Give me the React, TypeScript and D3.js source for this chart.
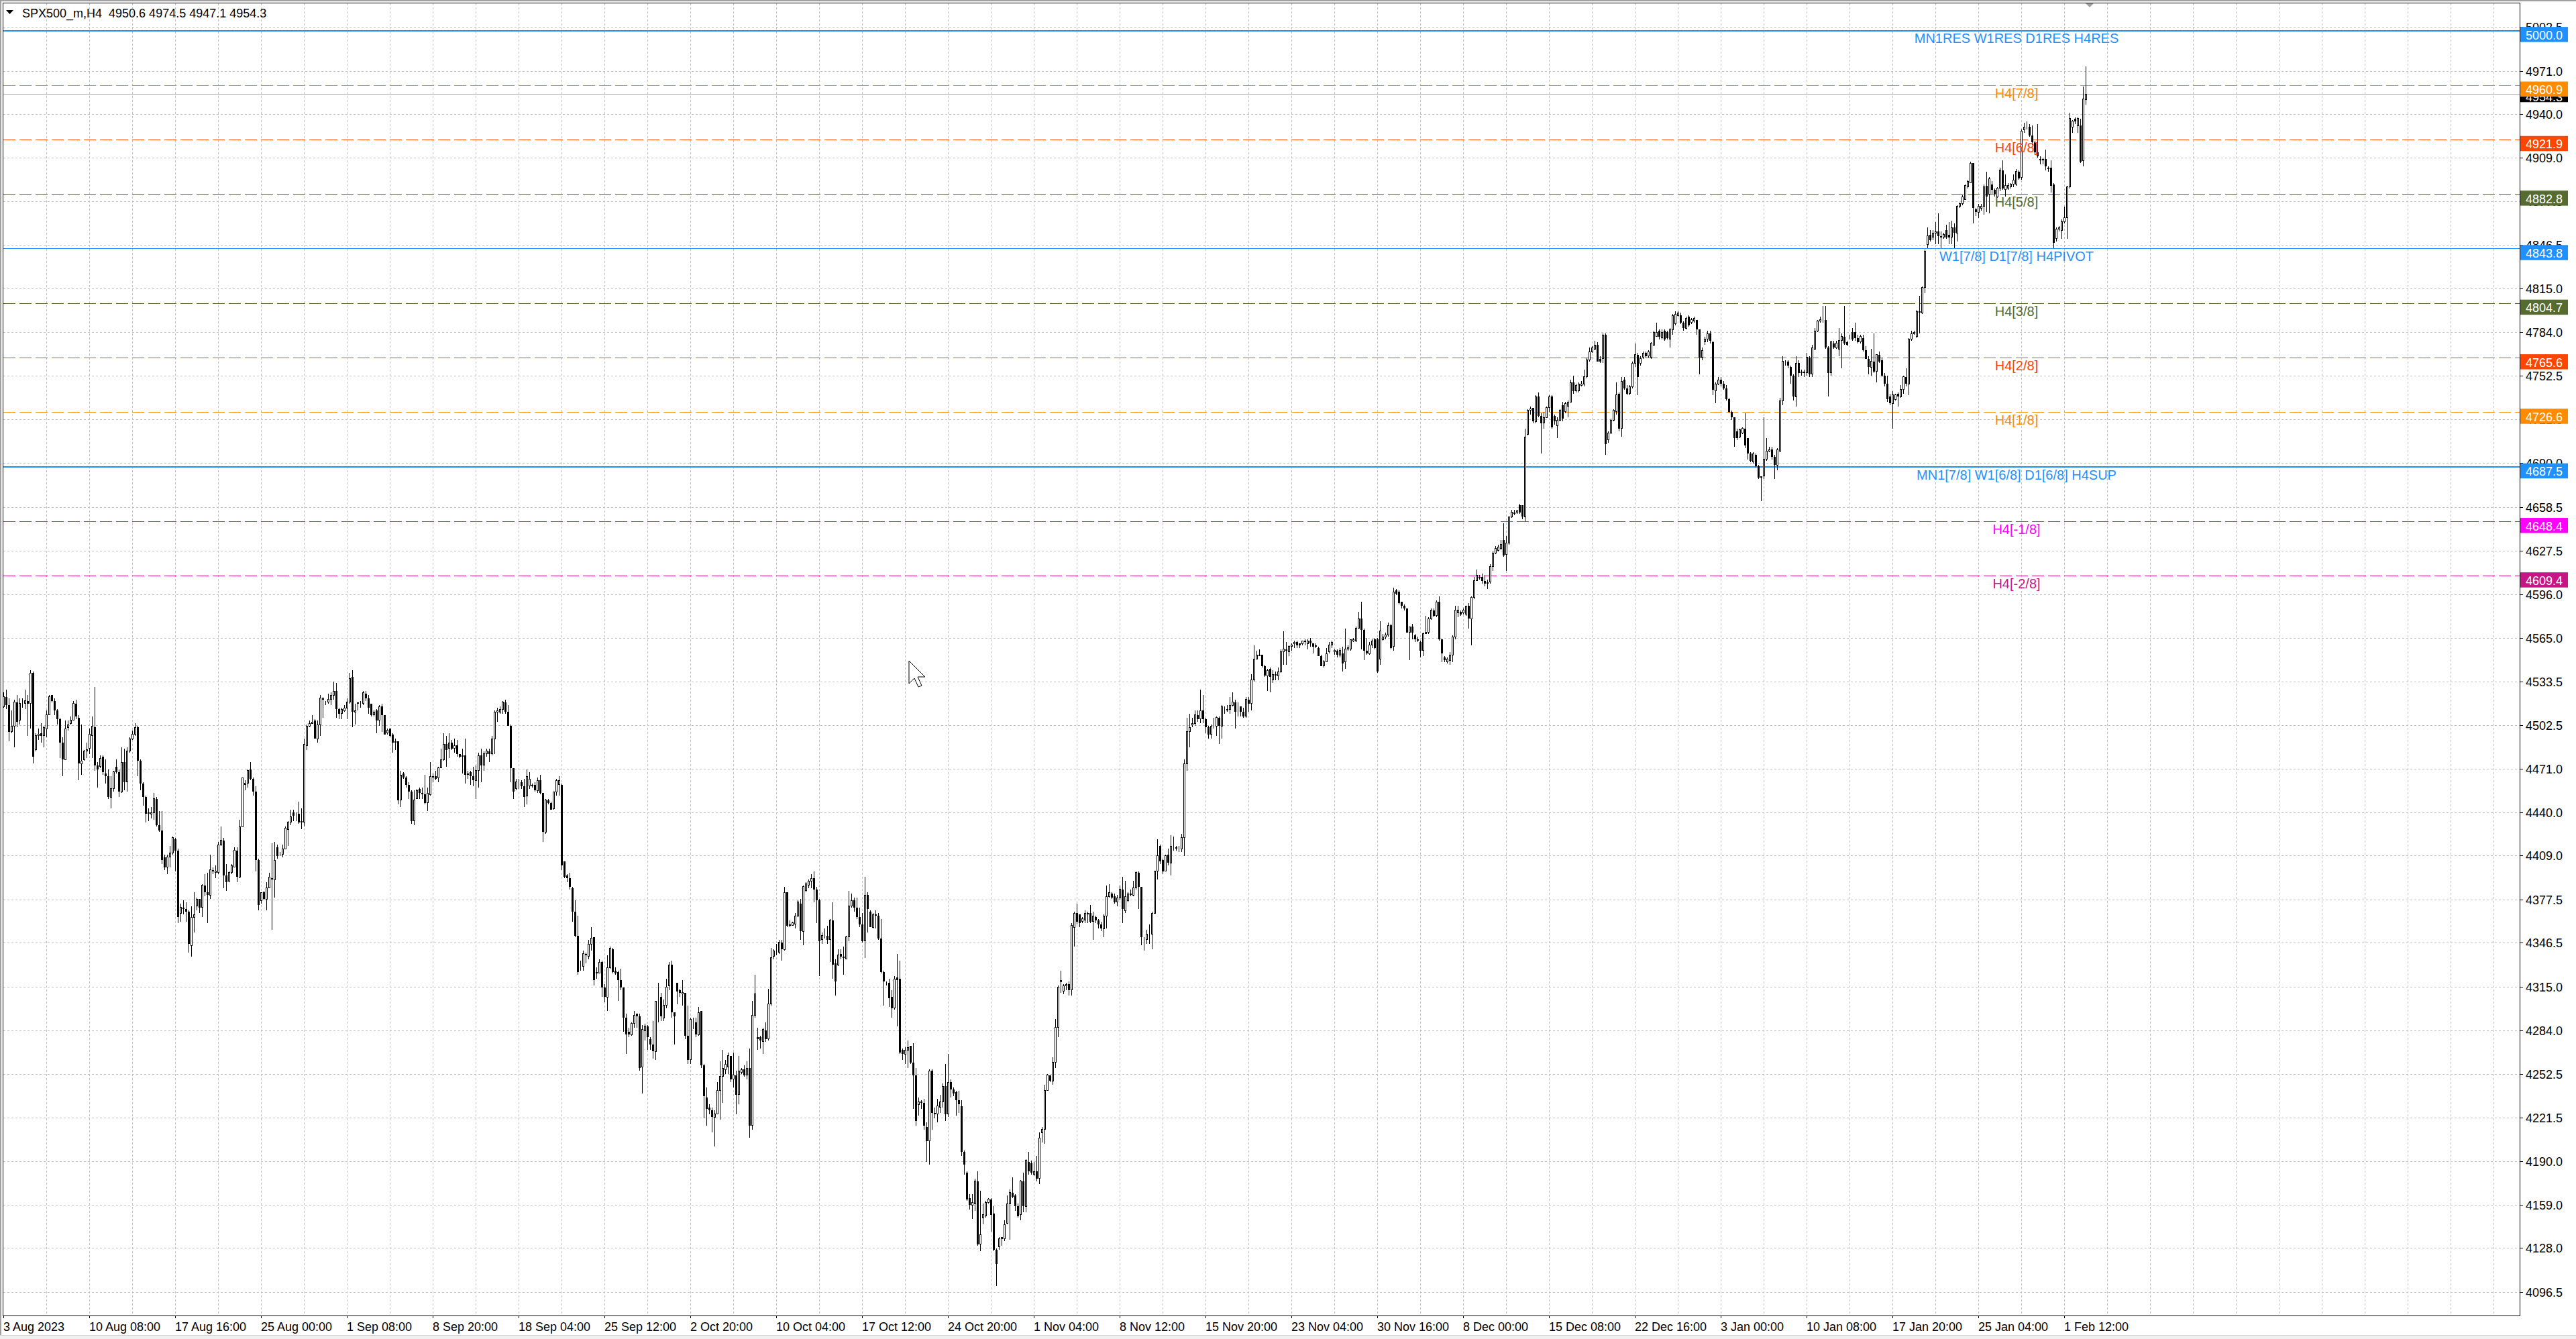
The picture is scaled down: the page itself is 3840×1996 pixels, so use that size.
import { useRef, useEffect } from "react";
import * as d3 from "d3";

const WIDTH = 3840;
const HEIGHT = 1996;

// H4 bars, oldest first: [open, high, low, close]
const candles: [number, number, number, number][] = [
  [4516,4526,4515,4523],[4523,4528,4514,4517],[4517,4522,4491,4498],[4498,4513,4497,4502],[4502,4521,4487,4519],
  [4519,4524,4501,4505],[4506,4522,4503,4518],[4518,4522,4515,4518],[4518,4528,4514,4520],[4520,4524,4495,4518],
  [4518,4542,4500,4540],[4540,4541,4475,4480],[4485,4497,4484,4495],[4495,4500,4492,4496],[4497,4504,4490,4495],
  [4495,4502,4487,4501],[4500,4513,4494,4510],[4510,4524,4510,4523],[4524,4524,4519,4520],[4520,4522,4510,4513],
  [4513,4514,4503,4507],[4507,4508,4479,4490],[4490,4494,4466,4478],[4478,4506,4478,4500],[4501,4506,4499,4503],
  [4504,4509,4503,4506],[4506,4520,4506,4518],[4518,4521,4507,4509],[4508,4510,4463,4475],[4475,4503,4467,4477],
  [4478,4485,4477,4484],[4484,4490,4479,4485],[4486,4500,4482,4496],[4495,4509,4479,4502],[4501,4530,4470,4474],
  [4474,4476,4458,4471],[4473,4481,4472,4479],[4480,4481,4467,4469],[4468,4478,4461,4466],[4466,4471,4450,4451],
  [4451,4466,4443,4457],[4457,4470,4455,4469],[4473,4478,4468,4469],[4469,4471,4451,4455],[4455,4487,4454,4476],
  [4476,4486,4456,4462],[4462,4487,4455,4484],[4484,4494,4483,4493],[4493,4499,4492,4496],[4496,4504,4495,4501],
  [4501,4502,4466,4477],[4477,4478,4456,4461],[4461,4462,4445,4451],[4451,4452,4433,4439],[4440,4443,4434,4439],
  [4439,4444,4436,4440],[4440,4454,4435,4450],[4450,4451,4430,4431],[4431,4441,4426,4427],[4427,4441,4403,4406],
  [4408,4410,4399,4401],[4401,4410,4396,4408],[4408,4416,4401,4411],[4411,4423,4410,4422],[4421,4422,4398,4413],
  [4413,4414,4361,4365],[4368,4375,4362,4372],[4372,4377,4367,4371],[4371,4376,4362,4369],[4369,4370,4340,4346],
  [4345,4373,4337,4365],[4365,4383,4354,4367],[4373,4379,4370,4378],[4378,4378,4368,4372],[4372,4389,4365,4388],
  [4388,4396,4380,4383],[4383,4397,4361,4381],[4381,4410,4378,4399],[4399,4401,4396,4398],[4397,4402,4393,4398],
  [4397,4419,4396,4417],[4417,4430,4416,4420],[4420,4422,4386,4395],[4395,4403,4384,4390],[4391,4398,4390,4397],
  [4397,4403,4396,4402],[4401,4415,4401,4413],[4413,4415,4390,4394],[4394,4435,4393,4430],[4430,4465,4430,4465],
  [4460,4463,4456,4461],[4461,4471,4458,4470],[4471,4476,4463,4464],[4464,4465,4452,4455],[4455,4459,4398,4406],
  [4406,4407,4370,4374],[4377,4383,4375,4383],[4383,4384,4377,4378],[4378,4390,4370,4386],[4386,4397,4386,4394],
  [4393,4418,4356,4392],[4392,4419,4379,4406],[4415,4417,4407,4409],[4410,4412,4409,4410],[4410,4417,4408,4414],
  [4414,4430,4414,4429],[4428,4434,4416,4433],[4433,4442,4431,4437],[4440,4442,4434,4438],[4438,4440,4434,4438],
  [4439,4448,4432,4433],[4434,4443,4428,4433],[4433,4493,4430,4489],[4488,4503,4485,4502],[4502,4506,4501,4504],
  [4504,4510,4504,4505],[4506,4507,4493,4493],[4493,4506,4490,4503],[4503,4524,4495,4522],[4521,4522,4508,4522],
  [4519,4520,4517,4519],[4519,4525,4518,4521],[4521,4526,4517,4524],[4524,4534,4521,4527],[4527,4533,4508,4514],
  [4514,4515,4507,4511],[4511,4515,4507,4514],[4513,4517,4512,4515],[4515,4522,4507,4519],[4519,4540,4518,4536],
  [4537,4542,4501,4512],[4512,4518,4503,4513],[4519,4519,4513,4518],[4518,4520,4515,4518],[4518,4527,4517,4526],
  [4525,4527,4520,4522],[4522,4524,4511,4515],[4518,4518,4509,4510],[4510,4513,4509,4512],[4513,4514,4497,4506],
  [4506,4517,4502,4516],[4516,4518,4498,4510],[4510,4510,4496,4496],[4497,4500,4496,4499],[4500,4500,4494,4495],
  [4496,4497,4483,4490],[4491,4493,4485,4490],[4491,4491,4446,4449],[4449,4470,4444,4467],[4468,4469,4464,4465],
  [4465,4466,4458,4460],[4460,4462,4450,4455],[4455,4456,4432,4434],[4434,4456,4431,4449],[4450,4457,4450,4456],
  [4457,4458,4450,4454],[4454,4458,4450,4453],[4453,4467,4446,4447],[4447,4458,4441,4454],[4453,4476,4452,4466],
  [4466,4468,4462,4465],[4466,4470,4463,4464],[4465,4473,4462,4472],[4472,4486,4472,4478],[4478,4497,4477,4489],
  [4489,4495,4473,4485],[4486,4497,4479,4490],[4490,4492,4485,4486],[4486,4493,4483,4488],[4488,4492,4480,4482],
  [4482,4482,4479,4480],[4481,4486,4468,4480],[4481,4493,4461,4467],[4468,4470,4464,4467],[4469,4470,4460,4466],
  [4466,4473,4459,4463],[4463,4474,4450,4470],[4470,4483,4458,4481],[4481,4486,4462,4474],[4474,4484,4470,4482],
  [4482,4486,4480,4484],[4484,4486,4476,4482],[4482,4495,4481,4493],[4493,4513,4482,4512],[4512,4515,4505,4513],
  [4512,4516,4511,4514],[4514,4520,4511,4519],[4519,4521,4511,4512],[4512,4517,4502,4502],[4502,4503,4462,4472],
  [4472,4472,4450,4455],[4457,4464,4456,4462],[4463,4464,4457,4463],[4462,4463,4457,4459],[4459,4464,4444,4451],
  [4452,4471,4446,4466],[4459,4469,4457,4464],[4460,4461,4458,4459],[4460,4462,4455,4456],[4456,4465,4454,4463],
  [4463,4467,4453,4454],[4454,4454,4419,4426],[4426,4450,4425,4449],[4449,4450,4446,4447],[4447,4448,4442,4442],
  [4443,4455,4442,4455],[4455,4464,4452,4463],[4460,4466,4452,4463],[4460,4461,4399,4402],[4405,4405,4393,4394],
  [4395,4396,4390,4393],[4393,4397,4385,4387],[4386,4387,4362,4369],[4369,4377,4351,4352],[4352,4366,4324,4326],
  [4330,4334,4327,4330],[4330,4341,4327,4339],[4339,4340,4332,4338],[4337,4349,4335,4346],[4346,4358,4341,4350],
  [4351,4351,4316,4320],[4326,4329,4321,4325],[4325,4335,4325,4333],[4333,4334,4308,4315],[4315,4317,4304,4308],
  [4308,4338,4298,4329],[4329,4344,4328,4343],[4342,4343,4325,4326],[4327,4329,4324,4325],[4326,4327,4305,4320],
  [4320,4328,4313,4315],[4315,4315,4283,4293],[4293,4296,4267,4281],[4283,4286,4279,4281],[4281,4290,4280,4289],
  [4289,4298,4286,4295],[4296,4296,4286,4294],[4294,4296,4255,4257],[4258,4288,4239,4285],[4284,4289,4277,4287],
  [4287,4288,4270,4279],[4278,4279,4270,4274],[4274,4291,4264,4269],[4269,4305,4263,4305],[4306,4318,4290,4306],
  [4308,4311,4291,4294],[4293,4306,4291,4302],[4302,4321,4300,4315],[4316,4333,4313,4331],[4331,4334,4293,4297],
  [4297,4297,4274,4294],[4318,4318,4303,4312],[4313,4314,4308,4311],[4310,4320,4302,4311],[4311,4311,4278,4280],
  [4280,4302,4260,4263],[4263,4293,4260,4292],[4290,4293,4285,4290],[4290,4293,4279,4281],[4281,4301,4280,4297],
  [4298,4298,4257,4259],[4259,4260,4221,4237],[4236,4243,4216,4228],[4229,4231,4224,4227],[4227,4229,4211,4222],
  [4222,4227,4201,4224],[4224,4247,4224,4241],[4241,4262,4220,4251],[4251,4270,4232,4257],[4256,4263,4253,4260],
  [4258,4268,4253,4266],[4266,4266,4247,4249],[4249,4268,4243,4252],[4252,4255,4224,4238],[4238,4266,4231,4255],
  [4254,4257,4253,4256],[4256,4259,4251,4252],[4252,4262,4249,4257],[4257,4271,4207,4216],[4216,4305,4213,4295],
  [4295,4324,4293,4310],[4279,4286,4270,4278],[4279,4280,4271,4277],[4276,4286,4267,4285],[4284,4290,4276,4278],
  [4278,4314,4277,4303],[4303,4343,4302,4336],[4337,4342,4335,4341],[4340,4346,4338,4340],[4340,4349,4339,4347],
  [4347,4349,4334,4342],[4342,4387,4341,4383],[4383,4383,4358,4359],[4360,4363,4358,4359],[4359,4362,4359,4361],
  [4360,4368,4357,4366],[4366,4377,4365,4376],[4375,4378,4349,4355],[4355,4388,4345,4387],[4384,4390,4383,4389],
  [4388,4392,4386,4391],[4391,4396,4386,4393],[4393,4398,4376,4385],[4385,4387,4361,4377],[4377,4378,4323,4348],
  [4349,4354,4346,4352],[4352,4357,4350,4352],[4352,4359,4346,4349],[4349,4364,4333,4363],[4363,4376,4321,4331],
  [4332,4335,4309,4319],[4331,4342,4330,4338],[4339,4342,4335,4337],[4337,4344,4324,4336],[4335,4352,4335,4351],
  [4351,4384,4348,4373],[4373,4382,4372,4377],[4377,4379,4369,4372],[4372,4379,4364,4365],[4365,4372,4358,4360],
  [4360,4368,4347,4348],[4348,4394,4336,4381],[4381,4383,4354,4371],[4369,4370,4358,4358],[4358,4368,4357,4367],
  [4367,4370,4357,4366],[4366,4368,4349,4350],[4350,4364,4325,4326],[4326,4327,4302,4319],[4317,4319,4316,4317],
  [4318,4321,4301,4307],[4308,4313,4293,4300],[4300,4323,4299,4321],[4322,4339,4287,4320],[4321,4334,4267,4268],
  [4270,4271,4263,4267],[4267,4272,4260,4270],[4270,4277,4257,4272],[4273,4273,4260,4261],[4261,4275,4228,4252],
  [4252,4257,4216,4219],[4231,4236,4223,4233],[4233,4234,4228,4232],[4232,4235,4213,4216],[4215,4218,4190,4205],
  [4205,4256,4188,4255],[4255,4256,4213,4225],[4225,4229,4221,4224],[4224,4235,4218,4230],[4229,4238,4225,4233],
  [4233,4246,4229,4244],[4244,4260,4219,4224],[4224,4267,4222,4247],[4247,4249,4236,4242],[4242,4243,4237,4239],
  [4240,4241,4223,4234],[4234,4241,4225,4231],[4230,4234,4194,4197],[4197,4198,4181,4188],[4182,4183,4162,4163],
  [4164,4167,4156,4159],[4159,4167,4149,4161],[4160,4178,4155,4176],[4176,4183,4130,4131],[4131,4169,4126,4138],
  [4150,4160,4145,4152],[4151,4162,4150,4161],[4161,4164,4160,4163],[4163,4164,4140,4152],[4153,4158,4126,4127],
  [4127,4128,4101,4117],[4129,4136,4127,4135],[4135,4136,4130,4136],[4135,4148,4133,4145],[4146,4166,4145,4160],
  [4160,4170,4134,4168],[4168,4179,4164,4165],[4166,4167,4155,4158],[4158,4160,4150,4151],[4152,4177,4148,4176],
  [4176,4182,4154,4158],[4158,4192,4154,4191],[4190,4197,4181,4183],[4189,4191,4181,4182],[4181,4190,4180,4183],
  [4183,4194,4176,4178],[4178,4211,4174,4207],[4211,4215,4204,4213],[4213,4245,4203,4241],[4241,4253,4241,4252],
  [4252,4252,4247,4248],[4248,4265,4245,4261],[4261,4292,4257,4286],[4286,4316,4279,4315],[4319,4327,4311,4320],
  [4312,4317,4310,4316],[4316,4318,4313,4317],[4317,4319,4309,4313],[4313,4361,4309,4359],[4358,4369,4344,4368],
  [4368,4375,4360,4362],[4367,4367,4358,4361],[4362,4365,4361,4364],[4363,4370,4361,4368],[4368,4369,4361,4367],
  [4368,4374,4361,4362],[4362,4369,4349,4366],[4365,4366,4361,4363],[4363,4364,4357,4360],[4360,4362,4355,4357],
  [4357,4367,4351,4366],[4366,4388,4357,4380],[4380,4389,4379,4383],[4382,4383,4378,4379],[4380,4382,4375,4376],
  [4376,4381,4373,4379],[4379,4388,4377,4385],[4385,4394,4361,4371],[4370,4391,4368,4380],[4377,4383,4376,4382],
  [4382,4385,4380,4381],[4381,4391,4380,4386],[4386,4398,4385,4397],[4397,4398,4371,4387],[4387,4387,4345,4351],
  [4350,4351,4341,4350],[4349,4356,4346,4353],[4353,4360,4346,4353],[4353,4369,4342,4368],[4368,4398,4368,4398],
  [4398,4421,4392,4409],[4416,4417,4403,4405],[4406,4407,4396,4398],[4398,4410,4398,4409],[4410,4414,4402,4404],
  [4404,4424,4395,4416],[4416,4423,4413,4416],[4415,4416,4413,4414],[4414,4416,4412,4414],[4414,4425,4412,4422],
  [4422,4478,4409,4475],[4475,4508,4470,4498],[4498,4511,4487,4501],[4503,4508,4501,4504],[4504,4513,4502,4510],
  [4510,4513,4505,4507],[4507,4528,4504,4513],[4513,4524,4504,4507],[4507,4508,4497,4501],[4501,4502,4493,4496],
  [4496,4503,4493,4502],[4502,4508,4500,4502],[4502,4509,4495,4508],[4508,4509,4489,4502],[4502,4517,4493,4516],
  [4514,4516,4511,4514],[4514,4517,4512,4513],[4514,4523,4511,4517],[4517,4526,4516,4519],[4519,4521,4500,4512],
  [4512,4519,4509,4512],[4516,4516,4509,4512],[4512,4515,4508,4509],[4509,4523,4508,4521],[4521,4523,4512,4518],
  [4518,4539,4513,4535],[4535,4560,4534,4550],[4550,4556,4550,4553],[4553,4557,4552,4552],[4553,4553,4544,4545],
  [4545,4546,4537,4538],[4538,4543,4527,4542],[4543,4544,4526,4537],[4535,4542,4533,4539],[4539,4541,4535,4538],
  [4538,4544,4535,4541],[4541,4557,4540,4555],[4555,4570,4546,4557],[4557,4562,4546,4556],[4555,4560,4552,4559],
  [4559,4561,4556,4560],[4561,4563,4558,4562],[4562,4563,4558,4560],[4561,4561,4558,4560],[4561,4563,4560,4563],
  [4563,4564,4560,4562],[4561,4564,4557,4563],[4563,4565,4559,4561],[4561,4561,4554,4559],[4560,4561,4558,4559],
  [4558,4559,4552,4552],[4552,4553,4545,4545],[4545,4549,4544,4548],[4548,4558,4548,4554],[4555,4562,4554,4560],
  [4560,4563,4558,4562],[4555,4557,4553,4556],[4556,4557,4551,4553],[4553,4558,4551,4556],[4554,4559,4541,4547],
  [4548,4572,4543,4557],[4557,4560,4556,4558],[4557,4564,4556,4564],[4563,4565,4562,4564],[4563,4573,4562,4572],
  [4572,4584,4572,4579],[4579,4591,4557,4571],[4571,4572,4549,4556],[4556,4565,4553,4554],[4554,4562,4553,4560],
  [4560,4564,4558,4563],[4564,4565,4557,4558],[4564,4565,4540,4541],[4550,4577,4546,4570],[4564,4568,4563,4566],
  [4566,4569,4564,4567],[4567,4576,4566,4574],[4574,4575,4557,4558],[4559,4601,4556,4598],[4599,4600,4596,4597],
  [4598,4599,4589,4590],[4591,4591,4586,4588],[4588,4589,4585,4586],[4586,4586,4569,4569],[4569,4573,4549,4573],
  [4573,4575,4564,4569],[4567,4568,4562,4564],[4564,4566,4562,4563],[4562,4563,4551,4556],[4556,4569,4552,4568],
  [4568,4581,4568,4569],[4569,4580,4568,4579],[4579,4586,4578,4585],[4585,4586,4580,4581],[4581,4592,4580,4591],
  [4591,4595,4563,4564],[4564,4564,4548,4554],[4551,4552,4548,4549],[4548,4551,4547,4550],[4549,4555,4546,4553],
  [4553,4567,4548,4566],[4566,4588,4564,4585],[4583,4588,4580,4585],[4584,4585,4581,4582],[4583,4586,4582,4585],
  [4582,4588,4581,4588],[4588,4590,4572,4579],[4579,4595,4560,4594],[4594,4609,4593,4606],[4606,4614,4606,4610],
  [4609,4610,4607,4608],[4609,4611,4604,4606],[4606,4610,4602,4604],[4605,4607,4600,4604],[4605,4618,4604,4616],
  [4616,4627,4613,4626],[4626,4631,4625,4629],[4628,4632,4627,4630],[4629,4635,4628,4632],[4635,4647,4623,4624],
  [4625,4638,4613,4633],[4633,4652,4632,4652],[4652,4657,4651,4655],[4655,4657,4653,4654],[4655,4657,4654,4656],
  [4660,4661,4654,4655],[4660,4660,4650,4652],[4652,4715,4648,4709],[4711,4729,4710,4728],[4728,4731,4725,4729],
  [4730,4730,4719,4720],[4720,4739,4719,4738],[4738,4741,4723,4724],[4724,4726,4697,4719],[4719,4727,4715,4723],
  [4723,4731,4723,4730],[4730,4739,4727,4738],[4738,4739,4715,4716],[4724,4725,4718,4720],[4717,4723,4708,4721],
  [4721,4729,4720,4728],[4732,4734,4720,4722],[4727,4734,4726,4733],[4731,4735,4723,4734],[4734,4750,4734,4748],
  [4748,4753,4740,4742],[4742,4747,4741,4746],[4742,4748,4741,4747],[4746,4749,4745,4747],[4747,4757,4745,4752],
  [4752,4766,4751,4764],[4764,4773,4763,4770],[4770,4774,4769,4773],[4772,4778,4771,4775],[4775,4777,4763,4763],
  [4765,4767,4762,4763],[4765,4783,4762,4782],[4782,4783,4696,4704],[4707,4713,4705,4712],[4712,4722,4711,4721],
  [4721,4729,4720,4728],[4727,4748,4725,4739],[4740,4741,4713,4715],[4715,4752,4709,4749],[4750,4752,4743,4744],
  [4744,4746,4739,4740],[4740,4746,4739,4745],[4745,4763,4744,4762],[4762,4776,4759,4768],[4768,4769,4739,4752],
  [4762,4767,4760,4765],[4766,4770,4765,4769],[4769,4770,4766,4767],[4767,4771,4766,4770],[4766,4777,4765,4776],
  [4775,4785,4774,4784],[4781,4791,4781,4784],[4785,4786,4779,4781],[4780,4786,4779,4784],[4785,4786,4778,4779],
  [4784,4785,4779,4780],[4779,4787,4773,4786],[4786,4797,4782,4796],[4790,4799,4789,4797],[4796,4799,4795,4798],
  [4796,4798,4790,4791],[4791,4792,4785,4787],[4787,4795,4786,4794],[4795,4796,4788,4789],[4791,4794,4790,4793],
  [4792,4795,4791,4794],[4793,4793,4782,4786],[4786,4786,4754,4766],[4766,4773,4764,4771],[4777,4781,4775,4779],
  [4779,4785,4777,4783],[4783,4785,4776,4778],[4777,4778,4739,4743],[4742,4748,4733,4747],[4747,4752,4746,4750],
  [4750,4752,4745,4747],[4747,4749,4743,4744],[4744,4746,4735,4736],[4736,4737,4726,4727],[4727,4728,4721,4723],
  [4723,4723,4702,4708],[4713,4715,4707,4708],[4709,4715,4708,4714],[4712,4716,4711,4715],[4715,4726,4701,4703],
  [4708,4708,4693,4697],[4697,4698,4691,4692],[4691,4698,4690,4697],[4696,4697,4687,4688],[4688,4689,4679,4680],
  [4681,4681,4663,4680],[4681,4723,4679,4693],[4693,4708,4692,4699],[4699,4702,4698,4700],[4700,4702,4693,4695],
  [4695,4696,4679,4689],[4689,4701,4685,4700],[4699,4737,4698,4735],[4735,4767,4732,4763],[4762,4764,4760,4762],
  [4763,4764,4758,4760],[4759,4760,4747,4753],[4753,4754,4735,4738],[4738,4767,4731,4762],[4762,4764,4752,4755],
  [4756,4757,4753,4755],[4756,4757,4752,4755],[4755,4769,4753,4766],[4766,4767,4752,4754],[4754,4775,4752,4773],
  [4772,4787,4771,4785],[4785,4793,4784,4792],[4792,4795,4791,4793],[4793,4803,4791,4793],[4793,4803,4772,4773],
  [4773,4774,4738,4755],[4755,4778,4753,4777],[4776,4778,4772,4773],[4773,4778,4772,4776],[4772,4787,4767,4778],
  [4778,4783,4758,4781],[4781,4803,4775,4776],[4777,4778,4774,4775],[4780,4782,4779,4780],[4784,4787,4778,4779],
  [4784,4791,4778,4780],[4780,4782,4776,4777],[4777,4782,4776,4781],[4780,4782,4770,4771],[4771,4774,4765,4765],
  [4765,4767,4754,4759],[4759,4772,4753,4763],[4763,4783,4755,4756],[4756,4768,4748,4768],[4768,4770,4762,4763],
  [4764,4766,4752,4753],[4753,4755,4745,4747],[4747,4753,4734,4736],[4738,4740,4732,4733],[4733,4742,4715,4739],
  [4736,4740,4735,4739],[4740,4741,4731,4738],[4738,4746,4737,4743],[4743,4753,4740,4752],[4752,4758,4745,4747],
  [4747,4780,4739,4779],[4779,4785,4778,4783],[4783,4785,4782,4784],[4781,4800,4780,4799],[4799,4810,4783,4798],
  [4798,4817,4797,4816],[4816,4843,4812,4842],[4847,4859,4844,4853],[4854,4857,4849,4850],[4852,4857,4850,4855],
  [4855,4863,4847,4856],[4856,4869,4847,4853],[4853,4856,4844,4852],[4852,4855,4851,4854],[4857,4861,4851,4852],
  [4854,4863,4847,4852],[4852,4864,4847,4859],[4859,4862,4844,4855],[4855,4875,4849,4874],[4874,4877,4873,4876],
  [4876,4882,4875,4881],[4879,4890,4879,4889],[4888,4893,4887,4892],[4891,4906,4891,4905],[4905,4905,4862,4873],
  [4872,4873,4867,4870],[4870,4876,4866,4874],[4873,4876,4871,4874],[4874,4890,4868,4888],[4889,4899,4870,4881],
  [4883,4895,4869,4894],[4890,4892,4883,4886],[4886,4887,4881,4883],[4881,4888,4880,4887],[4887,4902,4885,4900],
  [4900,4907,4886,4887],[4886,4897,4881,4889],[4887,4891,4886,4889],[4888,4891,4887,4890],[4890,4897,4888,4893],
  [4890,4901,4889,4899],[4899,4900,4893,4894],[4895,4929,4893,4928],[4929,4934,4927,4931],[4931,4935,4929,4931],
  [4931,4933,4924,4925],[4925,4932,4918,4920],[4920,4921,4911,4913],[4913,4933,4909,4910],[4908,4910,4904,4907],
  [4908,4909,4904,4907],[4908,4915,4900,4903],[4902,4903,4899,4901],[4902,4907,4884,4889],[4890,4891,4844,4848],
  [4851,4859,4849,4858],[4858,4860,4856,4859],[4857,4865,4851,4863],[4863,4874,4862,4866],[4866,4889,4851,4888],
  [4888,4941,4887,4937],[4931,4936,4927,4935],[4937,4938,4933,4935],[4932,4938,4927,4937],[4932,4937,4905,4906],
  [4907,4960,4903,4951],[4950.6,4974.5,4947.1,4954.3],
];

const symbol = "SPX500_m,H4";

// right price scale labels
const priceTicks = [
  5002.5, 4971.0, 4940.0, 4909.0, 4877.5, 4846.5, 4815.0, 4784.0, 4752.5, 4721.5,
  4690.0, 4658.5, 4627.5, 4596.0, 4565.0, 4533.5, 4502.5, 4471.0, 4440.0, 4409.0,
  4377.5, 4346.5, 4315.0, 4284.0, 4252.5, 4221.5, 4190.0, 4159.0, 4128.0, 4096.5,
];

// time scale labels, one every 32 bars
const timeLabels = [
  "3 Aug 2023", "10 Aug 08:00", "17 Aug 16:00", "25 Aug 00:00", "1 Sep 08:00",
  "8 Sep 20:00", "18 Sep 04:00", "25 Sep 12:00", "2 Oct 20:00", "10 Oct 04:00",
  "17 Oct 12:00", "24 Oct 20:00", "1 Nov 04:00", "8 Nov 12:00", "15 Nov 20:00",
  "23 Nov 04:00", "30 Nov 16:00", "8 Dec 00:00", "15 Dec 08:00", "22 Dec 16:00",
  "3 Jan 00:00", "10 Jan 08:00", "17 Jan 20:00", "25 Jan 04:00", "1 Feb 12:00",
];

// murrey / pivot levels
const levelPrices = [5000.0, 4960.9, 4921.9, 4882.8, 4843.8, 4804.7, 4765.6, 4726.6, 4687.5, 4648.4, 4609.4];
const levelNames = [
  "MN1RES W1RES D1RES H4RES", "H4[7/8]", "H4[6/8]", "H4[5/8]", "W1[7/8] D1[7/8] H4PIVOT",
  "H4[3/8]", "H4[2/8]", "H4[1/8]", "MN1[7/8] W1[6/8] D1[6/8] H4SUP", "H4[-1/8]", "H4[-2/8]",
];

const levelStyle = [
  { color: "#1E90FF", dash: null, w: 2 },
  { color: "#FF8C00", dash: "18,6", w: 1 },
  { color: "#FF4500", dash: "18,6", w: 1 },
  { color: "#556B2F", dash: "18,6", w: 1 },
  { color: "#1E90FF", dash: null, w: 1 },
  { color: "#556B2F", dash: "18,6", w: 1 },
  { color: "#FF4500", dash: "18,6", w: 1 },
  { color: "#FF8C00", dash: "18,6", w: 1 },
  { color: "#1E90FF", dash: null, w: 2 },
  { color: "#FF00FF", dash: "18,6", w: 1 },
  { color: "#C71585", dash: "18,6", w: 1 },
];

const FONT = "'Liberation Sans', Arial, sans-serif";

export default function App() {
  const svgRef = useRef<SVGSVGElement | null>(null);

  useEffect(() => {
    if (!svgRef.current) return;
    document.body.style.margin = "0";
    document.body.style.overflow = "hidden";

    const svg = d3.select(svgRef.current);
    svg.selectAll("*").remove();

    const left = 4.5, right = 3756.5, top = 4.5, bottom = 1961.5;
    const labelX = 3006;

    const x = d3.scaleLinear().domain([0, candles.length - 1]).range([5.5, 5.5 + 4 * (candles.length - 1)]);
    const y = d3.scaleLinear().domain([4096.5, 4971]).range([1926.4, 106]);
    const snap = (v: number) => Math.round(v - 0.5) + 0.5;

    svg.append("rect").attr("width", WIDTH).attr("height", HEIGHT).attr("fill", "#ffffff");

    // window edges
    svg.append("rect").attr("x", 0).attr("y", 1990).attr("width", WIDTH).attr("height", 6).attr("fill", "#f0f0f0");
    svg.append("line").attr("x1", 0).attr("x2", WIDTH).attr("y1", 1).attr("y2", 1).attr("stroke", "#a0a0a0").attr("stroke-width", 2);
    svg.append("line").attr("x1", 1).attr("x2", 1).attr("y1", 0).attr("y2", 1990).attr("stroke", "#a0a0a0").attr("stroke-width", 2);
    svg.append("line").attr("x1", 0).attr("x2", WIDTH).attr("y1", 1990.5).attr("y2", 1990.5).attr("stroke", "#d0d0d0");

    const g = svg.append("g").attr("shape-rendering", "crispEdges");

    // grid
    const grid = g.append("g").attr("stroke", "#c0c0c0").attr("stroke-dasharray", "3,3");
    grid.selectAll("line.h").data(priceTicks).enter().append("line")
      .attr("x1", left).attr("x2", right)
      .attr("y1", d => snap(y(d))).attr("y2", d => snap(y(d)));
    const vgrid = d3.range(16, 940, 16).filter(i => x(i) < right - 2);
    grid.selectAll("line.v").data(vgrid).enter().append("line")
      .attr("x1", d => x(d)).attr("x2", d => x(d))
      .attr("y1", top).attr("y2", bottom);

    // level lines
    levelPrices.forEach((p, i) => {
      const st = levelStyle[i];
      const ly = st.w === 2 ? Math.round(y(p)) : snap(y(p));
      g.append("line").attr("x1", left).attr("x2", right).attr("y1", ly).attr("y2", ly)
        .attr("stroke", st.color).attr("stroke-width", st.w)
        .attr("stroke-dasharray", st.dash);
    });

    // bid line
    const last = candles[candles.length - 1];
    g.append("line").attr("x1", left).attr("x2", right)
      .attr("y1", snap(y(last[3]))).attr("y2", snap(y(last[3])))
      .attr("stroke", "#b4b4b4");

    // candles
    const cg = g.append("g");
    cg.selectAll("line.wick").data(candles).enter().append("line")
      .attr("x1", (_d, i) => x(i)).attr("x2", (_d, i) => x(i))
      .attr("y1", d => y(d[1])).attr("y2", d => y(d[2]))
      .attr("stroke", "#000");
    cg.selectAll("rect.body").data(candles).enter().append("rect")
      .attr("x", (d, i) => (d[3] >= d[0] ? x(i) - 1 : x(i) - 1.5))
      .attr("width", d => (d[3] >= d[0] ? 2 : 3))
      .attr("y", d => y(Math.max(d[0], d[3])))
      .attr("height", d => Math.max(Math.abs(y(d[0]) - y(d[3])), d[3] >= d[0] ? 0 : 1))
      .attr("fill", d => (d[3] >= d[0] ? "#fff" : "#000"))
      .attr("stroke", d => (d[3] >= d[0] ? "#000" : "none"));

    // level captions
    levelPrices.forEach((p, i) => {
      svg.append("text").attr("x", labelX).attr("y", y(p) + 18.5)
        .attr("text-anchor", "middle").attr("font-family", FONT).attr("font-size", 20)
        .attr("fill", levelStyle[i].color).text(levelNames[i]);
    });

    // frame
    g.append("rect").attr("x", left).attr("y", top).attr("width", right - left).attr("height", bottom - top)
      .attr("fill", "none").attr("stroke", "#000");

    // price scale
    const ax = svg.append("g").attr("font-family", FONT).attr("font-size", 18);
    priceTicks.forEach(t => {
      const ty = snap(y(t));
      g.append("line").attr("x1", right).attr("x2", right + 4).attr("y1", ty).attr("y2", ty).attr("stroke", "#000");
      ax.append("text").attr("x", 3765).attr("y", ty + 6.5).attr("fill", "#000").text(t.toFixed(1));
    });

    // bid tag
    const by = y(last[3]);
    ax.append("rect").attr("x", 3757).attr("y", by - 5.5).attr("width", 71).attr("height", 17).attr("fill", "#000");
    ax.append("text").attr("x", 3765).attr("y", by + 10).attr("fill", "#fff").text(last[3].toFixed(1));

    // level tags
    levelPrices.forEach((p, i) => {
      const ly = y(p);
      ax.append("rect").attr("x", 3757).attr("y", ly - 5.5).attr("width", 71).attr("height", 22.5)
        .attr("fill", levelStyle[i].color);
      ax.append("text").attr("x", 3765).attr("y", ly + 13).attr("fill", "#fff").text(p.toFixed(1));
    });

    // time scale
    timeLabels.forEach((lab, k) => {
      const tx = x(k * 32);
      g.append("line").attr("x1", tx).attr("x2", tx).attr("y1", bottom).attr("y2", bottom + 3).attr("stroke", "#000");
      ax.append("text").attr("x", tx - 0.5).attr("y", 1984).attr("fill", "#000").text(lab);
    });

    // header
    svg.append("path").attr("d", "M9,15 L20,15 L14.5,21 Z").attr("fill", "#000");
    svg.append("text").attr("x", 33).attr("y", 26).attr("font-family", FONT).attr("font-size", 18)
      .style("white-space", "pre").attr("fill", "#000")
      .text(`${symbol}  ${last.map(v => v.toFixed(1)).join(" ")}`);

    // chart shift marker
    svg.append("path").attr("d", "M3109,5 L3121,5 L3115,11 Z").attr("fill", "#a0a0a0");

    // mouse cursor
    svg.append("path")
      .attr("transform", "translate(1355,985) scale(2)")
      .attr("d", "M0,0 L0,17 L4,13 L7,19.5 L9.5,18.5 L6.5,12 L12,12 Z")
      .attr("fill", "#fff").attr("stroke", "#000").attr("stroke-width", 0.5);
  }, []);

  return (
    <div style={{ position: "fixed", left: 0, top: 0, width: WIDTH, height: HEIGHT }}>
      <svg ref={svgRef} width={WIDTH} height={HEIGHT} />
    </div>
  );
}
